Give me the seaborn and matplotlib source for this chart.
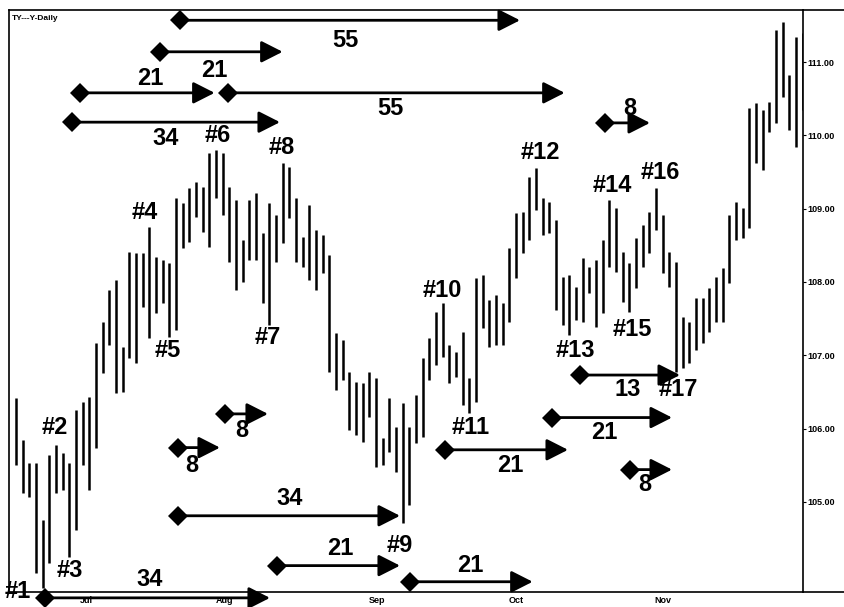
import matplotlib
matplotlib.use("Agg")
import matplotlib.pyplot as plt
from matplotlib.lines import Line2D
import numpy as np
import seaborn as sns

# daily high / low of the TY contract, one entry per trading day
highs = [106.42, 105.85, 105.53, 105.53, 104.75, 105.64, 105.78, 105.67, 105.53, 106.25,
         106.36, 106.43, 107.17, 107.45, 107.89, 108.03, 107.11, 108.41, 108.40, 108.40,
         108.75, 108.34, 108.30, 108.26, 109.15, 109.08, 109.28, 109.36, 109.30, 109.76,
         109.80, 109.76, 109.30, 109.12, 108.57, 109.12, 109.21, 108.67, 109.08, 108.91,
         109.62, 109.57, 109.15, 108.61, 109.05, 108.71, 108.64, 108.37, 107.30, 107.21,
         106.77, 106.64, 106.62, 106.77, 106.69, 105.87, 106.42, 106.02, 106.35, 106.02,
         106.46, 106.96, 107.24, 107.59, 107.71, 107.14, 107.05, 107.32, 106.69, 108.05,
         108.09, 107.75, 107.82, 107.71, 108.46, 108.94, 108.95, 109.43, 109.55, 109.15,
         109.09, 108.85, 108.07, 108.09, 107.93, 108.33, 108.20, 108.30, 108.57, 109.12,
         109.01, 108.41, 108.26, 108.60, 108.78, 108.95, 109.28, 108.91, 108.41, 108.27,
         107.52, 107.45, 107.78, 107.78, 107.92, 108.07, 108.19, 108.91, 109.09, 109.01,
         110.37, 110.44, 110.35, 110.45, 111.44, 111.55, 110.82, 111.34, 111.40]
lows = [105.50, 105.12, 105.07, 104.03, 103.83, 104.17, 105.12, 105.16, 104.25, 104.62,
        105.50, 105.16, 105.74, 106.76, 107.14, 106.49, 106.50, 106.96, 106.90, 107.66,
        107.24, 107.58, 107.71, 107.25, 107.35, 108.46, 108.55, 108.89, 108.68, 108.48,
        109.15, 108.91, 108.27, 107.89, 108.00, 108.30, 108.30, 107.71, 107.41, 108.27,
        108.53, 108.87, 108.27, 108.20, 108.03, 107.89, 108.12, 106.77, 106.53, 106.66,
        105.98, 105.91, 105.82, 106.16, 105.48, 105.50, 105.68, 105.41, 104.71, 104.96,
        105.80, 105.89, 106.66, 106.87, 106.98, 106.62, 106.70, 106.32, 106.21, 106.36,
        107.37, 107.11, 107.14, 107.14, 107.45, 108.05, 108.40, 108.57, 108.98, 108.64,
        108.67, 107.62, 107.41, 107.28, 107.48, 107.45, 107.85, 107.39, 107.58, 108.20,
        108.14, 107.73, 107.59, 107.92, 108.20, 108.40, 108.71, 108.12, 107.93, 106.77,
        106.83, 106.90, 107.07, 107.17, 107.32, 107.45, 107.45, 107.99, 108.57, 108.60,
        108.74, 109.62, 109.53, 110.05, 110.17, 110.52, 110.07, 109.84, 110.35]

month_labels = ["Jul", "Aug", "Sep", "Oct", "Nov"]
month_pos = [10.5, 31.3, 54.1, 75.1, 97.0]
price_ticks = [105, 106, 107, 108, 109, 110, 111]

# swing point labels (bar position, price)
pivot_names = ["#1", "#2", "#3", "#4", "#5", "#6", "#7", "#8", "#9", "#10",
               "#11", "#12", "#13", "#14", "#15", "#16", "#17"]
pivot_x = [0.2, 5.85, 8.1, 19.35, 22.8, 30.3, 37.8, 39.9, 57.6, 63.9,
           68.25, 78.6, 83.85, 89.4, 92.4, 96.6, 99.3]
pivot_y = [103.78, 106.01, 104.07, 108.95, 107.07, 110.00, 107.24, 109.83, 104.41, 107.89,
           106.01, 109.77, 107.07, 109.32, 107.35, 109.50, 106.53]

# fibonacci time counts: start bar, end bar, price level, count, label x, label y
count_start = [24.6, 21.6, 9.6, 31.8, 8.4, 88.3, 24.3, 31.3, 24.3, 39.1, 59.1, 4.35, 64.3, 80.4, 84.6, 92.1]
count_end = [75.6, 40.0, 29.8, 82.3, 39.6, 95.1, 30.6, 37.8, 57.6, 57.6, 77.5, 38.1, 82.8, 98.4, 99.6, 98.4]
count_level = [111.57, 111.14, 110.58, 110.58, 110.18, 110.17, 105.74, 106.20, 104.81, 104.13,
               103.91, 103.69, 105.71, 106.15, 106.73, 105.44]
count_text = ["55", "21", "21", "55", "34", "8", "8", "8", "34", "21", "21", "34", "21", "21", "13", "8"]
count_tx = [49.4, 29.8, 20.1, 56.1, 22.4, 92.1, 26.4, 33.9, 41.1, 48.6, 68.1, 20.1, 74.1, 88.3, 91.8, 94.3]
count_ty = [111.30, 110.89, 110.78, 110.37, 109.96, 110.37, 105.50, 105.98, 105.05, 104.37,
            104.13, 103.94, 105.50, 105.94, 106.53, 105.23]

sns.set_theme(style="white")
plt.rcParams["font.family"] = ["Liberation Sans", "DejaVu Sans"]
plt.rcParams["text.color"] = "black"

fig = plt.figure(figsize=(8.45, 6.07), dpi=100)
ax = fig.add_axes([0.0112, 0.0247, 0.9395, 0.9588])

bars = np.arange(len(highs))
ax.vlines(bars, lows, highs, color="black", lw=1.8)

ax.set_xlim(-0.97, 118.1)
ax.set_ylim(103.77, 111.71)
ax.yaxis.tick_right()
ax.set_yticks(price_ticks)
ax.set_yticklabels([f"{p:.2f}" for p in price_ticks], fontsize=6.5, fontweight="bold")
ax.set_xticks(month_pos)
ax.set_xticklabels(month_labels, fontsize=6.5, fontweight="bold")
ax.tick_params(axis="both", length=2, width=0.8, pad=1, colors="black", direction="out")
for s in ax.spines.values():
    s.set_color("black")
    s.set_linewidth(1.2)

# frame continues over the price scale
for yy in (0.9835, 0.0247):
    fig.add_artist(Line2D([0.95, 1.0], [yy, yy], transform=fig.transFigure, color="black", lw=1.2))

ax.text(0.003, 0.992, "TY---Y-Daily", transform=ax.transAxes, fontsize=6,
        fontweight="bold", va="top", ha="left", color="black")

for x0, x1, y, n, tx, ty in zip(count_start, count_end, count_level, count_text, count_tx, count_ty):
    ax.annotate("", xy=(x1, y), xytext=(x0, y), annotation_clip=False,
                arrowprops=dict(arrowstyle="-|>,head_length=0.65,head_width=0.33",
                                color="black", lw=2, shrinkA=0, shrinkB=0, mutation_scale=20))
    ax.plot(x0, y, marker="D", ms=10, color="black", mew=0, clip_on=False)
    ax.text(tx, ty, n, fontsize=17, fontweight="bold", ha="center", va="center",
            color="black", clip_on=False)

for name, px, py in zip(pivot_names, pivot_x, pivot_y):
    ax.text(px, py, name, fontsize=17, fontweight="bold", ha="center", va="center",
            color="black", clip_on=False)

plt.savefig("out.png", dpi=100)
plt.close()
